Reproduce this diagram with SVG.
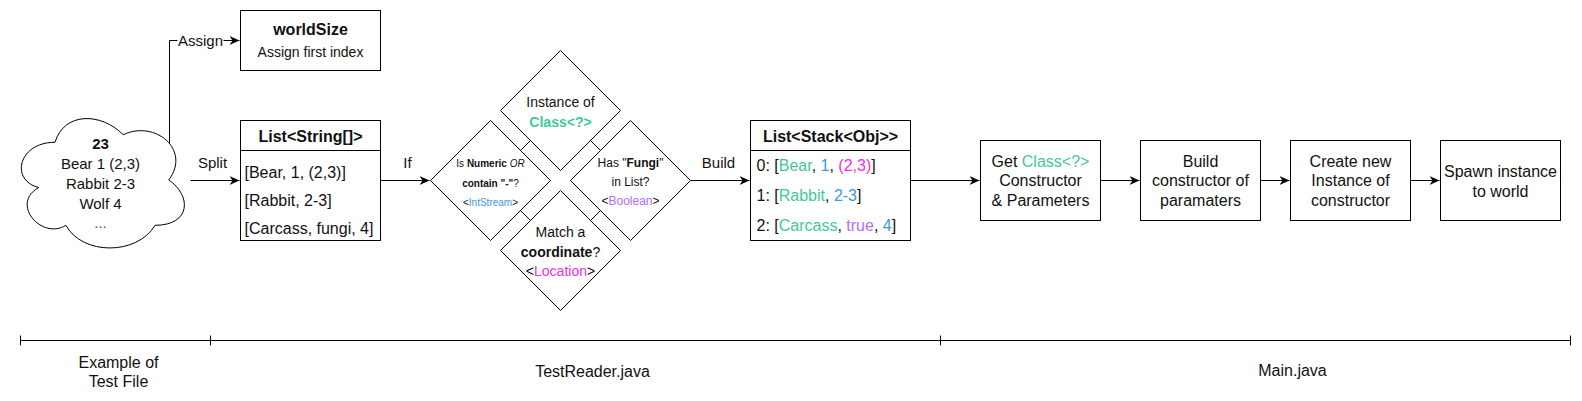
<svg xmlns="http://www.w3.org/2000/svg" width="1582" height="401" viewBox="0 0 1582 401">
<style>
text{font-family:"Liberation Sans",Arial,Helvetica,sans-serif;fill:#111}
.box{fill:#fff;stroke:#000;stroke-width:1}
.ln{fill:none;stroke:#000;stroke-width:1}
.arr{fill:none;stroke:#000;stroke-width:1;marker-end:url(#ah)}
.c{text-anchor:middle}
.f16{font-size:16px}.f15{font-size:15px}.f14{font-size:14px}.f12{font-size:12px}.f10{font-size:10px}
.b{font-weight:bold}.i{font-style:italic}
.g{fill:#3fc89c}.bl{fill:#3b9bd6}.mg{fill:#e632e6}.pu{fill:#b46eff}
</style>
<defs>
<marker id="ah" markerUnits="userSpaceOnUse" viewBox="0 0 10 9" refX="10" refY="4.5" markerWidth="10" markerHeight="9" orient="auto">
<path d="M0,0 L10,4.5 L0,9 L3,4.5 Z" fill="#000"/>
</marker>
</defs>
<rect width="1582" height="401" fill="#fff"/>
<g transform="translate(0.5,0.5)">
<g id="connectors">
<path class="arr" d="M169,143 V40 H239"/>
<path class="arr" d="M190,180 H239"/>
<path class="arr" d="M380,180 H429"/>
<path class="arr" d="M690,180 H749"/>
<path class="arr" d="M910,180 H979"/>
<path class="arr" d="M1100,180 H1139"/>
<path class="arr" d="M1260,180 H1289"/>
<path class="arr" d="M1410,180 H1439"/>
<path class="ln" d="M520,150 L530,140 M590,140 L600,150 M520,210 L530,220 M600,210 L590,220"/>
<rect x="177" y="31" width="46" height="18" fill="#fff"/>
<text class="f15 c" x="200" y="45">Assign</text>
<text class="f15 c" x="212" y="167">Split</text>
<text class="f15 c" x="407" y="167">If</text>
<text class="f15 c" x="718" y="167">Build</text>
</g>
<g id="cloud">
<path class="box" d="M54.5,141.75 C18.1,141.75 9,179.5 38.12,187.05 C9,203.66 41.76,239.9 65.42,224.8 C81.8,255 136.4,255 154.6,224.8 C191,224.8 191,194.6 168.25,179.5 C191,149.3 154.6,119.1 122.75,134.2 C100,111.55 63.6,111.55 54.5,141.75 Z"/>
<text class="f15 c b" x="100" y="148">23</text>
<text class="f15 c" x="100" y="168">Bear 1 (2,3)</text>
<text class="f15 c" x="100" y="188">Rabbit 2-3</text>
<text class="f15 c" x="100" y="208">Wolf 4</text>
<text class="f15 c" x="100" y="227" style="fill:#555">...</text>
</g>
<g id="worldSize">
<rect class="box" x="240" y="10" width="140" height="60"/>
<text class="f16 c b" x="310" y="34.5">worldSize</text>
<text class="f14 c" x="310" y="56.5">Assign first index</text>
</g>
<g id="listString">
<rect class="box" x="240" y="120" width="140" height="120"/>
<path class="ln" d="M240,150 H380"/>
<text class="f16 c b" x="310" y="141.5">List&lt;String[]&gt;</text>
<text class="f16" x="244" y="177">[Bear, 1, (2,3)]</text>
<text class="f16" x="244" y="205.5">[Rabbit, 2-3]</text>
<text class="f16" x="244" y="233.5">[Carcass, fungi, 4]</text>
</g>
<g id="diamondClass">
<path class="box" d="M560,50 L620,110 L560,170 L500,110 Z"/>
<text class="f14 c" x="560" y="106">Instance of</text>
<text class="f14 c b g" x="560" y="126">Class&lt;?&gt;</text>
</g>
<g id="diamondNumeric">
<path class="box" d="M490,120 L550,180 L490,240 L430,180 Z"/>
<text class="f10 c" x="490" y="166.5">Is <tspan class="b">Numeric</tspan> <tspan class="i">OR</tspan></text>
<text class="f10 c" x="490" y="186"><tspan class="b">contain "-"</tspan>?</text>
<text class="f10 c" x="490" y="205">&lt;<tspan class="bl">IntStream</tspan>&gt;</text>
</g>
<g id="diamondFungi">
<path class="box" d="M630,120 L690,180 L630,240 L570,180 Z"/>
<text class="f12 c" x="630" y="166">Has "<tspan class="b">Fungi</tspan>"</text>
<text class="f12 c" x="630" y="185.5">in List?</text>
<text class="f12 c" x="630" y="204">&lt;<tspan class="pu">Boolean</tspan>&gt;</text>
</g>
<g id="diamondCoord">
<path class="box" d="M560,190 L620,250 L560,310 L500,250 Z"/>
<text class="f14 c" x="560" y="236">Match a</text>
<text class="f14 c" x="560" y="256"><tspan class="b">coordinate</tspan>?</text>
<text class="f14 c" x="560" y="275">&lt;<tspan class="mg">Location</tspan>&gt;</text>
</g>
<g id="listStack">
<rect class="box" x="750" y="120" width="160" height="120"/>
<path class="ln" d="M750,150 H910"/>
<text class="f16 c b" x="830" y="141.5">List&lt;Stack&lt;Obj&gt;&gt;</text>
<text class="f16" x="756" y="170.5">0: [<tspan class="g">Bear</tspan>, <tspan class="bl">1</tspan>, <tspan class="mg">(2,3)</tspan>]</text>
<text class="f16" x="756" y="200.5">1: [<tspan class="g">Rabbit</tspan>, <tspan class="bl">2-3</tspan>]</text>
<text class="f16" x="756" y="230.5">2: [<tspan class="g">Carcass</tspan>, <tspan class="pu">true</tspan>, <tspan class="bl">4</tspan>]</text>
</g>
<g id="getClass">
<rect class="box" x="980" y="140" width="120" height="80"/>
<text class="f16 c" x="1040" y="166">Get <tspan class="g">Class&lt;?&gt;</tspan></text>
<text class="f16 c" x="1040" y="185.5">Constructor</text>
<text class="f16 c" x="1040" y="205">&amp; Parameters</text>
</g>
<g id="buildConstructor">
<rect class="box" x="1140" y="140" width="120" height="80"/>
<text class="f16 c" x="1200" y="166">Build</text>
<text class="f16 c" x="1200" y="185.5">constructor of</text>
<text class="f16 c" x="1200" y="205">paramaters</text>
</g>
<g id="createInstance">
<rect class="box" x="1290" y="140" width="120" height="80"/>
<text class="f16 c" x="1350" y="166">Create new</text>
<text class="f16 c" x="1350" y="185.5">Instance of</text>
<text class="f16 c" x="1350" y="205">constructor</text>
</g>
<g id="spawn">
<rect class="box" x="1440" y="140" width="120" height="80"/>
<text class="f16 c" x="1500" y="176">Spawn instance</text>
<text class="f16 c" x="1500" y="196">to world</text>
</g>
<g id="timeline">
<path class="ln" d="M20,340 H1570 M20,335 V345 M210,335 V345 M940,335 V345 M1570,335 V345"/>
<text class="f16 c" x="118" y="367.5">Example of</text>
<text class="f16 c" x="118" y="386.5">Test File</text>
<text class="f16 c" x="592" y="376.5">TestReader.java</text>
<text class="f16 c" x="1292" y="375.5">Main.java</text>
</g>
</g>
</svg>
